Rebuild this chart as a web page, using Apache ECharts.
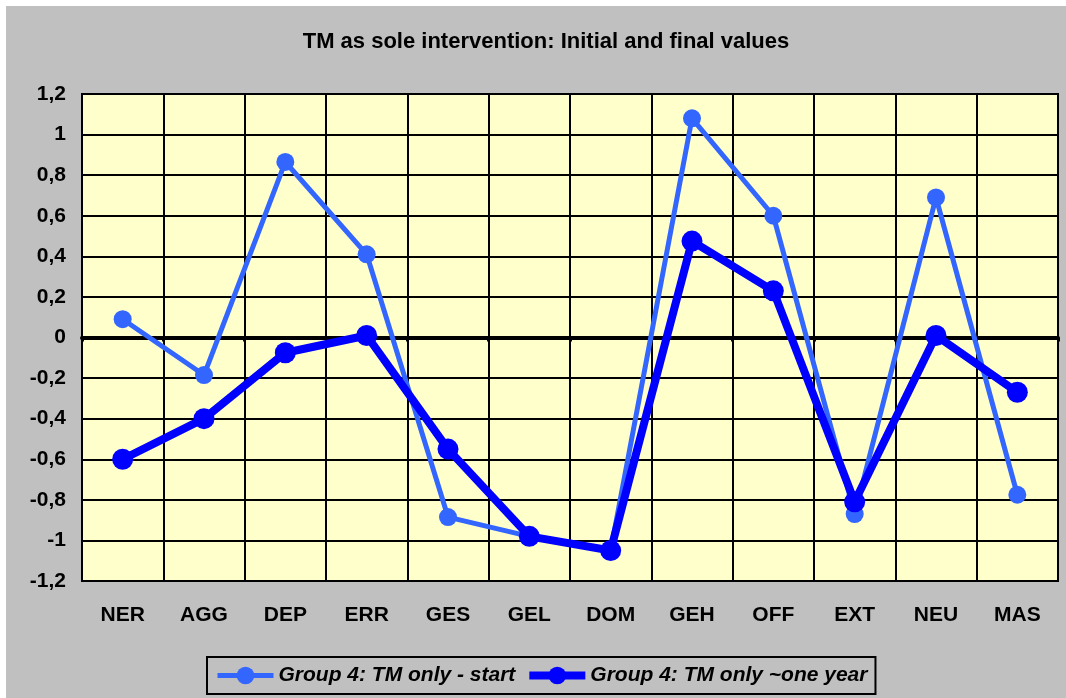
<!DOCTYPE html>
<html lang="en">
<head>
    <meta charset="UTF-8">
    <title>TM as sole intervention</title>
    <script src="https://cdn.jsdelivr.net/npm/echarts@6/dist/echarts.min.js"></script>
    <style>
        html, body { margin: 0; padding: 0; background: #fff; }
        #main { position: absolute; left: 6px; top: 6px; width: 1060px; height: 692px; }
    </style>
</head>
<body>
<div id="main"></div>
<script type="text/javascript">
    // data
    var categories = ['NER', 'AGG', 'DEP', 'ERR', 'GES', 'GEL', 'DOM', 'GEH', 'OFF', 'EXT', 'NEU', 'MAS'];
    var startValues = [0.09, -0.185, 0.865, 0.41, -0.885, -0.98, -1.05, 1.08, 0.60, -0.87, 0.69, -0.775];
    var yearValues = [-0.60, -0.40, -0.075, 0.01, -0.55, -0.98, -1.05, 0.475, 0.23, -0.81, 0.01, -0.27];
    var seriesNames = ['Group 4: TM only - start', 'Group 4: TM only ~one year'];

    var font = 'Liberation Sans, Arial, sans-serif';
    var myChart = echarts.init(document.getElementById('main'));

    var option = {
        backgroundColor: '#c0c0c0',
        title: {
            text: 'TM as sole intervention: Initial and final values',
            left: 535,
            textAlign: 'center',
            top: 20,
            textStyle: { fontFamily: font, fontWeight: 'bold', fontSize: 22, color: '#000' }
        },
        legend: {
            data: [
                { name: seriesNames[0], lineStyle: { width: 5 } },
                { name: seriesNames[1], lineStyle: { width: 8 } }
            ],
            left: 201,
            top: 651,
            padding: [8, 8],
            itemGap: 10,
            itemWidth: 56,
            itemHeight: 22,
            borderColor: '#000',
            borderWidth: 2,
            backgroundColor: '#c0c0c0',
            textStyle: { fontFamily: font, fontWeight: 'bold', fontStyle: 'italic', fontSize: 21, color: '#000' }
        },
        grid: {
            left: 76,
            right: 8,
            top: 88,
            bottom: 117,
            show: true,
            backgroundColor: '#ffffcc',
            borderColor: '#000',
            borderWidth: 2
        },
        xAxis: [
            {
                type: 'category',
                data: categories,
                position: 'bottom',
                boundaryGap: true,
                axisLine: { show: false, onZero: false },
                axisTick: { show: false },
                axisLabel: { margin: 24, fontFamily: font, fontWeight: 'bold', fontSize: 21, color: '#000' },
                splitLine: { show: true, interval: 0, lineStyle: { color: '#000', width: 2 } }
            },
            {
                // thick line at zero with its little ticks
                type: 'category',
                data: categories,
                position: 'bottom',
                boundaryGap: true,
                axisLine: { show: true, onZero: true, lineStyle: { color: '#000', width: 4 } },
                axisTick: { show: true, length: 4, lineStyle: { color: '#000', width: 3 } },
                axisLabel: { show: false },
                splitLine: { show: false }
            }
        ],
        yAxis: {
            type: 'value',
            min: -1.2,
            max: 1.2,
            interval: 0.2,
            axisLine: { show: false },
            axisTick: { show: false },
            axisLabel: {
                margin: 16,
                fontFamily: font,
                fontWeight: 'bold',
                fontSize: 21,
                color: '#000',
                formatter: function (v) {
                    return String(Math.round(v * 10) / 10).replace('.', ',');
                }
            },
            splitLine: { show: true, lineStyle: { color: '#000', width: 2 } }
        },
        series: [
            {
                name: seriesNames[0],
                type: 'line',
                data: startValues,
                symbol: 'circle',
                symbolSize: 18,
                color: '#3366ff',
                lineStyle: { width: 5, color: '#3366ff' },
                itemStyle: { color: '#3366ff' },
                z: 3
            },
            {
                name: seriesNames[1],
                type: 'line',
                data: yearValues,
                symbol: 'circle',
                symbolSize: 21,
                color: '#0000ff',
                lineStyle: { width: 8, color: '#0000ff' },
                itemStyle: { color: '#0000ff' },
                z: 4
            }
        ]
    };

    myChart.setOption(option);
</script>
</body>
</html>
